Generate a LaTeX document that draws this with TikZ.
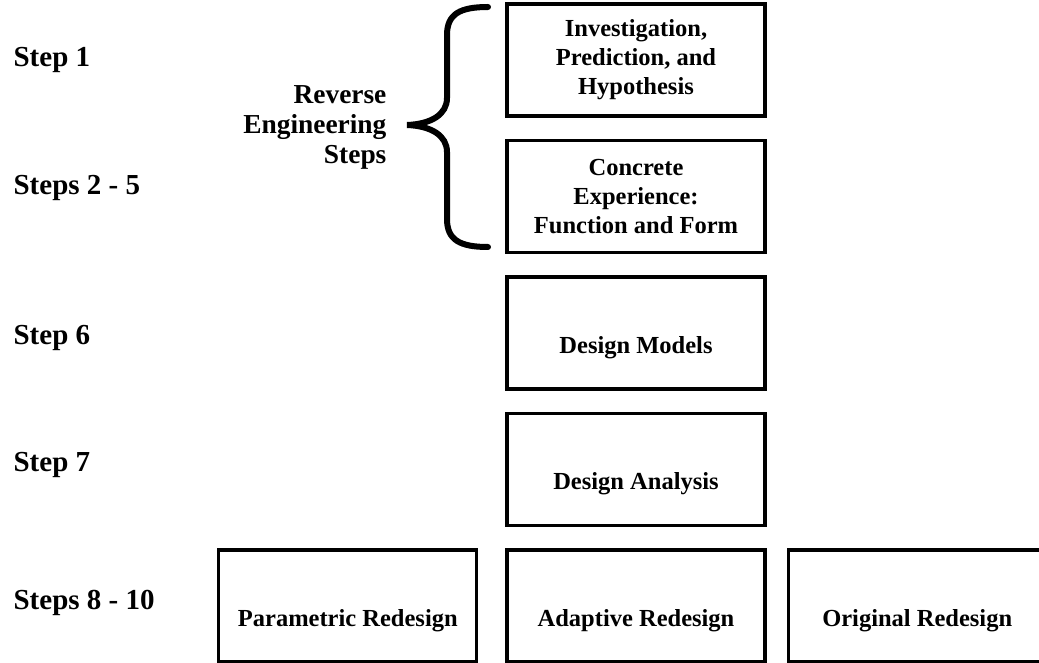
\documentclass[tikz,border=0pt]{standalone}
\usepackage{fontspec}
\setmainfont{Liberation Serif}
\usetikzlibrary{positioning}

\begin{document}
\begin{tikzpicture}[x=0.5pt, y=-0.5pt, node distance={68.25pt}, line width=1.6pt,
    box/.style = {draw, rectangle, minimum width=129pt, minimum height=56pt, align=center, inner sep=2pt, font=\fontsize{12.25}{14.5}\selectfont\bfseries},
    one/.style = {box, text height=20pt, text depth=0pt},
    steplabel/.style = {anchor=west, inner sep=0pt, font=\fontsize{14.5}{17}\selectfont\bfseries}]
            \useasboundingbox (0,0) rectangle (1039,663);
            \node[box] (inv) at (636,60) {Investigation,\\ Prediction, and\\ Hypothesis};
            \node[box] (con) [below of=inv] {Concrete\\ Experience:\\ Function and Form};
            \node[one] (mod) [below of=con] {Design Models};
            \node[one] (ana) [below of=mod] {Design Analysis};
            \node[one] (ada) [below of=ana] {Adaptive Redesign};
            \node[one] (par) [left=13.5pt of ada] {Parametric Redesign};
            \node[one] (ori) [right=10pt of ada] {Original Redesign};
            \node[steplabel] (s1) at (12,60) {Step 1};
            \node[steplabel] (s2) at (12,188) {Steps 2 - 5};
            \node[steplabel] (s6) at (12,338) {Step 6};
            \node[steplabel] (s7) at (12,465) {Step 7};
            \node[steplabel] (s8) at (12,603) {Steps 8 - 10};
            \node[anchor=east, align=right, inner sep=0pt, font=\fontsize{13.7}{15}\selectfont\bfseries] (rev) at (388,127) {Reverse\\ Engineering\\ Steps};
            \draw[line width=3pt, line cap=round] (488,7) .. controls (460,7) and (447,14) .. (447,35) -- (447,98)
                .. controls (447,114) and (432,124) .. (407,125)
                .. controls (432,126) and (447,136) .. (447,152) -- (447,219)
                .. controls (447,240) and (460,247) .. (488,247);
        \end{tikzpicture}
\end{document}
